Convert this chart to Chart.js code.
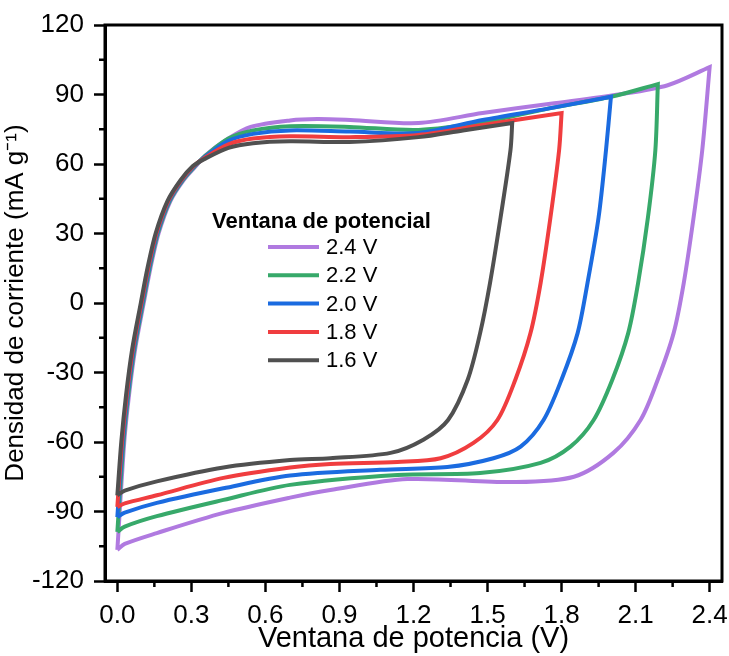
<!DOCTYPE html>
<html>
<head>
<meta charset="utf-8">
<script src="https://cdn.jsdelivr.net/npm/chart.js@4"></script>
<style>
  html, body { margin: 0; padding: 0; background: #fff; }
  #wrap { width: 729px; height: 656px; }
</style>
</head>
<body>
<div id="wrap"><canvas id="cv"></canvas></div>
<script>
// potential windows (legend order)
const windows = ['2.4 V', '2.2 V', '2.0 V', '1.8 V', '1.6 V'];
const colors = ['#b07ae0', '#37a96a', '#1b6be0', '#f03d3f', '#505050'];

// each loop: charge branch 0 -> Vmax, then discharge branch Vmax -> 0
// (corner points are repeated so the curve turns sharply there)
const v24 = [0, 0, 0.028, 0.047, 0.072, 0.107, 0.134, 0.167, 0.215, 0.268, 0.317, 0.36, 0.45, 0.54, 0.7, 0.81, 0.944, 1.22, 1.48, 1.755, 2.03, 2.23, 2.40, 2.40,
             2.37, 2.335, 2.295, 2.254, 2.19, 2.12, 2.01, 1.85, 1.605, 1.175, 0.863, 0.70, 0.43, 0.16, 0.03, 0];
const j24 = [-106.6, -106.6, -60, -40, -20, 0, 15, 30, 44, 53, 59, 64, 71, 76, 78.8, 79.4, 79, 77.7, 82, 86, 90, 94, 101.8, 101.8,
             66, 37, 8.6, -13, -33, -50.5, -64.7, -75, -77.3, -76, -80.7, -84, -90.6, -99.3, -104, -106.6];

const v22 = [0, 0, 0.025, 0.044, 0.069, 0.104, 0.131, 0.164, 0.212, 0.265, 0.314, 0.356, 0.45, 0.55, 0.7, 0.94, 1.22, 1.48, 1.75, 2.0, 2.19, 2.19,
             2.18, 2.15, 2.11, 2.07, 2.006, 1.93, 1.836, 1.715, 1.47, 1.135, 0.70, 0.43, 0.16, 0.03, 0];
const j22 = [-98.8, -98.8, -60, -40, -20, 0, 15, 30, 44, 53, 59, 63.5, 71, 74.5, 76.3, 76, 74.7, 78, 84, 89, 94.5, 94.5,
             66, 37, 8.6, -13, -33, -50.5, -62, -69, -73.4, -74.2, -78.5, -85, -92, -96.5, -98.8];

const v20 = [0, 0, 0.022, 0.041, 0.066, 0.101, 0.128, 0.161, 0.209, 0.262, 0.311, 0.354, 0.45, 0.55, 0.7, 0.94, 1.22, 1.48, 1.75, 2.0, 2.0,
             1.98, 1.95, 1.905, 1.865, 1.80, 1.727, 1.634, 1.524, 1.337, 1.066, 0.70, 0.43, 0.16, 0.03, 0];
const j20 = [-92.4, -92.4, -60, -40, -20, 0, 15, 30, 44, 53, 59, 63, 70, 73, 74.5, 74, 73.4, 79, 84, 89, 89,
             66, 37, 8.6, -13, -33, -50.5, -62, -67, -70.8, -72, -74.5, -80, -86.3, -90.5, -92.4];

const v18 = [0, 0, 0.019, 0.038, 0.063, 0.098, 0.125, 0.158, 0.206, 0.259, 0.308, 0.352, 0.45, 0.55, 0.7, 0.94, 1.22, 1.48, 1.8, 1.8,
             1.79, 1.755, 1.715, 1.674, 1.613, 1.54, 1.443, 1.31, 1.135, 0.863, 0.70, 0.43, 0.16, 0.03, 0];
const j18 = [-88, -88, -60, -40, -20, 0, 15, 30, 44, 53, 59, 62.5, 68.5, 71, 72, 71.6, 72.5, 76.8, 82, 82,
             66, 37, 8.6, -13, -33, -50.5, -60.4, -67, -68.6, -69.5, -71, -75.5, -83, -86.5, -88];

const v16 = [0, 0, 0.016, 0.035, 0.06, 0.095, 0.122, 0.155, 0.203, 0.256, 0.305, 0.35, 0.45, 0.55, 0.7, 0.94, 1.22, 1.4, 1.6, 1.6,
             1.593, 1.553, 1.51, 1.47, 1.42, 1.34, 1.24, 1.107, 0.863, 0.70, 0.43, 0.16, 0.03, 0];
const j16 = [-83, -83, -60, -40, -20, 0, 15, 30, 44, 53, 59, 62, 67, 69, 69.8, 69.5, 71.6, 74.5, 77.7, 77.7,
             66, 37, 8.6, -13, -33, -50.5, -59, -64.7, -67, -67.8, -71, -77, -81, -83];

const xs = [v24, v22, v20, v18, v16];
const ys = [j24, j22, j20, j18, j16];

const yTicks = [-120, -90, -60, -30, 0, 30, 60, 90, 120];
const xTicks = [0.0, 0.3, 0.6, 0.9, 1.2, 1.5, 1.8, 2.1, 2.4];

const FONT = '"Liberation Sans", Arial, sans-serif';

const frameAndExtras = {
  id: 'frameAndExtras',
  afterDraw(chart) {
    const ctx = chart.ctx;
    const a = chart.chartArea;
    const sx = chart.scales.x, sy = chart.scales.y;
    ctx.save();
    ctx.strokeStyle = '#000';
    ctx.lineWidth = 3;
    ctx.strokeRect(a.left, a.top, a.right - a.left, a.bottom - a.top);
    // minor ticks
    ctx.lineWidth = 2.5;
    ctx.beginPath();
    for (let i = 0; i < yTicks.length - 1; i++) {
      const py = sy.getPixelForValue((yTicks[i] + yTicks[i + 1]) / 2);
      ctx.moveTo(a.left, py); ctx.lineTo(a.left - 6, py);
    }
    for (let i = 0; i < xTicks.length - 1; i++) {
      const px = sx.getPixelForValue((xTicks[i] + xTicks[i + 1]) / 2);
      ctx.moveTo(px, a.bottom); ctx.lineTo(px, a.bottom + 6);
    }
    ctx.stroke();
    // legend
    ctx.fillStyle = '#000';
    ctx.textBaseline = 'alphabetic';
    ctx.font = 'bold 22px ' + FONT;
    ctx.fillText('Ventana de potencial', 212, 228);
    ctx.font = '22px ' + FONT;
    ctx.textBaseline = 'middle';
    windows.forEach((w, i) => {
      const yy = 247 + i * 28.3;
      ctx.strokeStyle = colors[i];
      ctx.lineWidth = 4;
      ctx.beginPath();
      ctx.moveTo(268, yy); ctx.lineTo(319, yy);
      ctx.stroke();
      ctx.fillText(w, 326, yy + 1);
    });
    ctx.restore();
  }
};

new Chart(document.getElementById('cv'), {
  type: 'scatter',
  data: {
    datasets: windows.map((w, i) => ({
      label: w,
      data: xs[i].map((x, k) => ({ x: x, y: ys[i][k] })),
      showLine: true,
      borderColor: colors[i],
      backgroundColor: colors[i],
      borderWidth: 4,
      pointRadius: 0,
      tension: 0.3,
      order: windows.length - 1 - i
    }))
  },
  options: {
    responsive: true,
    maintainAspectRatio: false,
    animation: false,
    layout: { padding: { top: 25, right: 7, left: 0, bottom: 0 } },
    plugins: { legend: { display: false }, tooltip: { enabled: false } },
    scales: {
      x: {
        type: 'linear',
        min: -0.05, max: 2.45,
        afterFit: s => { s.height = 75; s.paddingLeft = 0; s.paddingRight = 0; },
        afterBuildTicks: s => { s.ticks = xTicks.map(v => ({ value: v })); },
        ticks: { color: '#000', font: { family: FONT, size: 26 }, padding: 8, callback: v => v.toFixed(1) },
        grid: { drawOnChartArea: false, tickLength: 11, tickWidth: 2.5, tickColor: '#000' },
        border: { color: '#000', width: 3 },
        title: { display: true, text: 'Ventana de potencia (V)', color: '#000', font: { family: FONT, size: 29 }, padding: { top: 0, bottom: 0 } }
      },
      y: {
        min: -120, max: 120,
        afterFit: s => { s.width = 105; s.paddingTop = 0; s.paddingBottom = 0; },
        afterBuildTicks: s => { s.ticks = yTicks.map(v => ({ value: v })); },
        ticks: { color: '#000', font: { family: FONT, size: 26 }, padding: 10 },
        grid: { drawOnChartArea: false, tickLength: 11, tickWidth: 2.5, tickColor: '#000' },
        border: { color: '#000', width: 3 },
        title: { display: true, text: 'Densidad de corriente (mA g⁻¹)', color: '#000', font: { family: FONT, size: 26 }, padding: { top: 0, bottom: 0 } }
      }
    }
  },
  plugins: [frameAndExtras]
});
</script>
</body>
</html>
